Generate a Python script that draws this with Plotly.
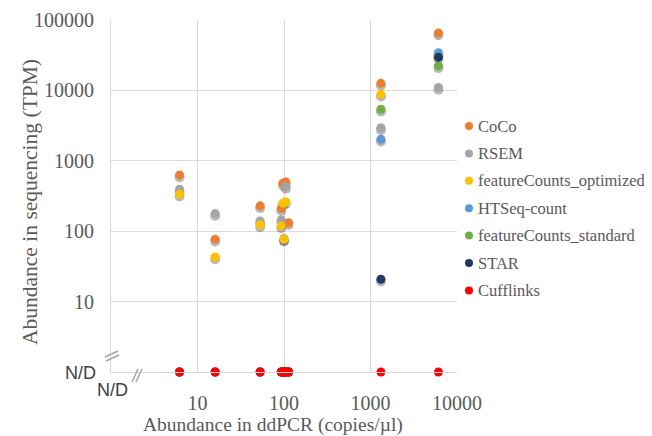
import plotly.graph_objects as go

# ---------------- data ----------------
ddpcr = [6.2, 16, 53, 93, 97, 100, 105, 113, 1320, 6100]          # copies/µl
coco = [630, 77, 229, 211, 480, None, 500, 132, 12600, 65300]     # TPM (None = N/D)
rsem = [395, 178, 140, 145, None, 79, 430, None, 2950, 11000]
fc_optimized = [336, 43, 123, 119, 250, 77, 262, None, 8800, 33000]
htseq = [None, None, None, None, None, None, None, None, 2020, 34300]
fc_standard = [None, None, None, None, None, None, None, None, 5400, 22300]
star = [None, None, None, None, None, None, None, None, 20.8, 29500]
cufflinks = [None, None, None, None, None, None, None, None, None, None]

series_names = ["CoCo", "RSEM", "featureCounts_optimized", "HTSeq-count",
                "featureCounts_standard", "STAR", "Cufflinks"]
series_values = [coco, rsem, fc_optimized, htseq, fc_standard, star, cufflinks]
series_colors = ["#ED7D31", "#A5A5A5", "#FFC000", "#5B9BD5", "#70AD47", "#1F3864", "#FF0000"]

x_ticks = [10, 100, 1000, 10000]
y_ticks = [10, 100, 1000, 10000, 100000]
ND_LEVEL = 1  # N/D values are placed on the axis floor

# ---------------- layout geometry ----------------
# page body has an 8px default margin; screen coordinates below are compensated
OFF = 8
W, H = 652 - OFF, 436 - OFF
SL, SR, ST, SB = 111, 457, 20, 372        # plot area in screen pixels
PL, PR, PT, PB = SL - OFF, SR - OFF, ST - OFF, SB - OFF


def px(x):
    return (x - SL) / (SR - SL)


def py(y):
    return (SB - y) / (SB - ST)


SERIF = "Liberation Serif, Times New Roman, serif"
SANS = "Liberation Sans, Arial, sans-serif"
GRAY = "#595959"

fig = go.Figure()

# soft shadows under the markers
sx, sy = [], []
for vals in series_values:
    for xv, yv in zip(ddpcr, vals):
        sx.append(xv)
        sy.append((yv if yv is not None else ND_LEVEL) * 0.93)
fig.add_trace(go.Scatter(x=sx, y=sy, mode="markers", showlegend=False, hoverinfo="skip",
                         marker=dict(size=10, color="rgba(0,0,0,0.28)"), cliponaxis=False))

for name, vals, col in zip(series_names, series_values, series_colors):
    yy = [v if v is not None else ND_LEVEL for v in vals]
    fig.add_trace(go.Scatter(x=ddpcr, y=yy, mode="markers", name=name, showlegend=False,
                             marker=dict(size=9, color=col), cliponaxis=False))

axis_common = dict(type="log", showgrid=True, gridcolor="#D9D9D9", gridwidth=1,
                   showline=True, linecolor="#D9D9D9", linewidth=1, zeroline=False,
                   ticks="outside", tickcolor="rgba(0,0,0,0)", automargin=False,
                   tickfont=dict(family=SERIF, size=20, color=GRAY))

fig.update_xaxes(range=[0, 4], tickvals=x_ticks, ticktext=[str(t) for t in x_ticks],
                 ticklen=13, **axis_common)
fig.update_yaxes(range=[0, 5], tickvals=y_ticks, ticktext=[str(t) for t in y_ticks],
                 ticklen=12, **axis_common)

annotations = [
    dict(text="Abundance in ddPCR (copies/µl)", x=px(273), y=py(425), xref="paper", yref="paper",
         showarrow=False, font=dict(family=SERIF, size=19.5, color=GRAY), xanchor="center", yanchor="middle"),
    dict(text="Abundance in sequencing (TPM)", x=px(30), y=py(202), xref="paper", yref="paper",
         showarrow=False, textangle=-90, font=dict(family=SERIF, size=21.5, color=GRAY),
         xanchor="center", yanchor="middle"),
    dict(text="N/D", x=px(80), y=py(373), xref="paper", yref="paper", showarrow=False,
         font=dict(family=SANS, size=18, color="#404040"), xanchor="center", yanchor="middle"),
    dict(text="N/D", x=px(112), y=py(390), xref="paper", yref="paper", showarrow=False,
         font=dict(family=SANS, size=18, color="#404040"), xanchor="center", yanchor="middle"),
]

shapes = []
# axis break marks
for (x0, y0, x1, y1) in [(105, 357, 118, 351), (106, 361, 119, 355),
                         (132, 382, 138, 369), (136, 382, 142, 369)]:
    shapes.append(dict(type="line", xref="paper", yref="paper", x0=px(x0), y0=py(y0),
                       x1=px(x1), y1=py(y1), line=dict(color="#A6A6A6", width=1.5)))

# legend (drawn manually to mimic the compact spreadsheet legend)
LEG_Y0, LEG_DY = 126, 27.4
for i, (name, col) in enumerate(zip(series_names, series_colors)):
    yc = LEG_Y0 + i * LEG_DY
    r = 4
    shapes.append(dict(type="circle", xref="paper", yref="paper",
                       x0=px(469 - r), x1=px(469 + r), y0=py(yc + r), y1=py(yc - r),
                       fillcolor=col, line=dict(width=0)))
    annotations.append(dict(text=name, x=px(476), y=py(yc), xref="paper", yref="paper",
                            showarrow=False, xanchor="left", yanchor="middle",
                            font=dict(family=SERIF, size=16.5, color=GRAY)))

fig.update_layout(width=W, height=H, margin=dict(l=PL, r=W - PR, t=PT, b=H - PB),
                  paper_bgcolor="white", plot_bgcolor="white", showlegend=False,
                  annotations=annotations, shapes=shapes)

fig.write_html("out.html")
